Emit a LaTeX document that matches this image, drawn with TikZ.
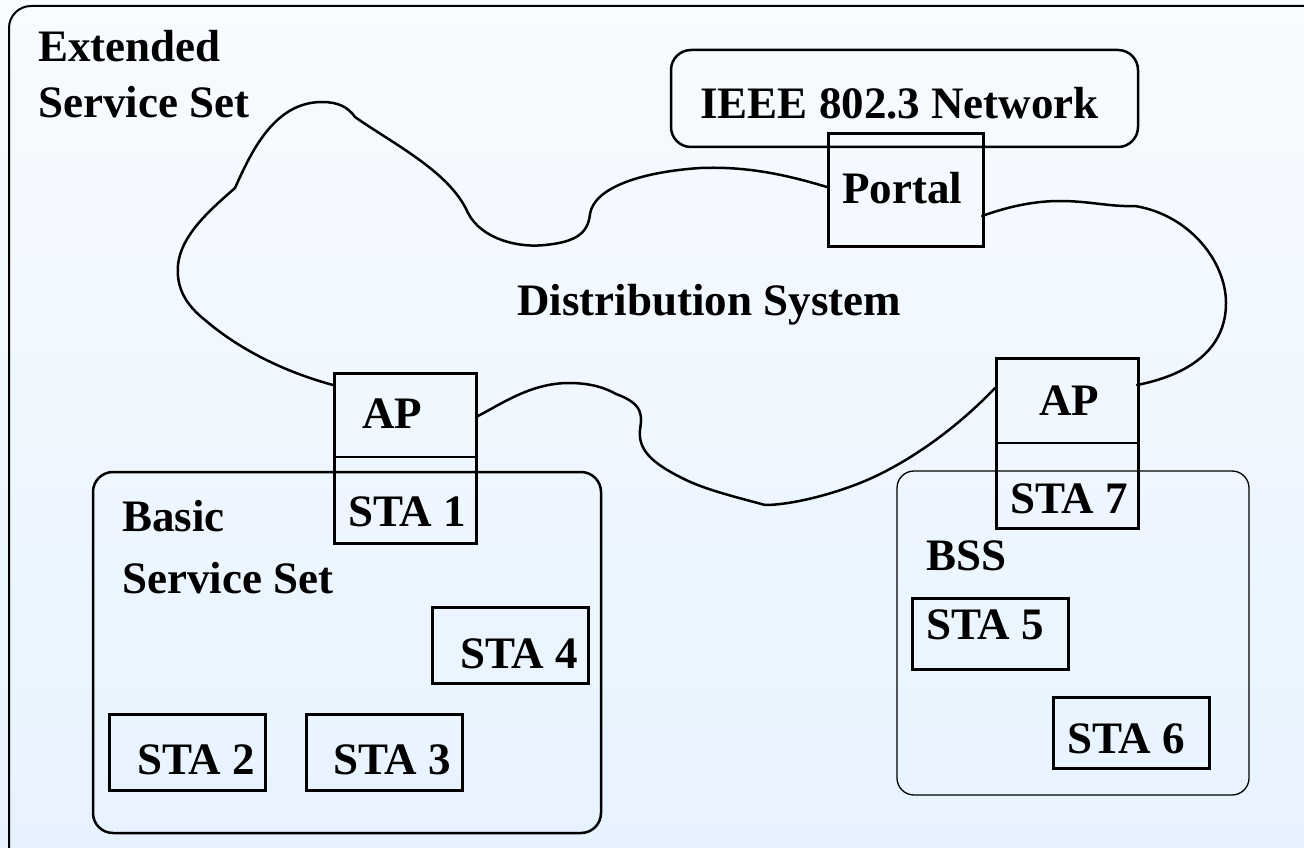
\documentclass[tikz,border=0pt]{standalone}
\usepackage{fontspec}
\setmainfont{Liberation Serif}
\definecolor{bgtop}{RGB}{248,251,255}
\definecolor{bgbot}{RGB}{230,243,255}
\begin{document}
\begin{tikzpicture}[x=1pt,y=-1pt,
  lbl/.style={anchor=base west, inner sep=0pt, font=\fontsize{45}{54}\selectfont\bfseries},
  sbox/.style={draw, line width=3pt, inner sep=0pt, anchor=north west},
  divline/.style={line width=1.4pt},
  cloudline/.style={line width=2.5pt, line join=round, line cap=round}]
\useasboundingbox (0,0) rectangle (1304,848);
\clip (0,0) rectangle (1304,848);
\fill[top color=bgtop, bottom color=bgbot] (0,0) rectangle (1304,848);
% outer frame
\draw[line width=2pt, rounded corners=22pt] (9,6) rectangle (1340,880);
\node[lbl] (ess1) at (38,62) {Extended};
\node[lbl] (ess2) at (38,118) {Service Set};
% IEEE network
\draw[line width=2.5pt, rounded corners=20pt] (671,50) rectangle (1138,147);
\node[lbl] (ieee) at (700,119) {IEEE 802.3 Network};
% portal
\node[sbox, minimum width=155pt, minimum height=113pt] (portal) at (827,132) {};
\node[lbl] (portaltxt) at (842,203) {Portal};
% distribution system label
\node[lbl] (ds) at (517,315) {Distribution System};
% left BSS
\draw[line width=2.5pt, rounded corners=20pt] (93,472) rectangle (601,833);
\node[lbl] (bss1a) at (122,531) {Basic};
\node[lbl] (bss1b) at (122,593) {Service Set};
% left AP / STA 1
\node[sbox, minimum width=142pt, minimum height=170pt] (apL) at (333,372) {};
\draw[divline] (333,457) -- (475,457);
\node[lbl] (apLtxt) at (362,428) {AP};
\node[lbl] (sta1) at (348,526) {STA 1};
% STA 2,3,4
\node[sbox, minimum width=156pt, minimum height=76pt] (b4) at (431,606) {};
\node[lbl] (sta4) at (460,668) {STA 4};
\node[sbox, minimum width=156pt, minimum height=76pt] (b2) at (107.5,713) {};
\node[lbl] (sta2) at (137,774) {STA 2};
\node[sbox, minimum width=156pt, minimum height=76pt] (b3) at (304.5,713) {};
\node[lbl] (sta3) at (333,774) {STA 3};
% right BSS
\draw[line width=1.3pt, rounded corners=17pt] (897,471) rectangle (1249,795);
\node[lbl] (bss2) at (926,570) {BSS};
\node[sbox, minimum width=156pt, minimum height=71pt] (b5) at (911,597) {};
\node[lbl] (sta5) at (926,639) {STA 5};
\node[sbox, minimum width=156pt, minimum height=71pt] (b6) at (1052,696) {};
\node[lbl] (sta6) at (1067,753) {STA 6};
% right AP / STA 7
\node[sbox, minimum width=142pt, minimum height=170pt] (apR) at (995,357) {};
\draw[divline] (995,443) -- (1137,443);
\node[lbl] (apRtxt) at (1039,415) {AP};
\node[lbl] (sta7) at (1010,513) {STA 7};
% cloud (distribution system)
\draw[cloudline] (333,385)
  .. controls (285,372) and (240,350) .. (205,320)
  .. controls (186,305) and (176,288) .. (178,265)
  .. controls (181,235) and (210,210) .. (235,188)
  .. controls (252,150) and (275,102) .. (322,102)
  .. controls (338,102) and (348,107) .. (355,117)
  .. controls (395,145) and (450,172) .. (468,213)
  .. controls (482,240) and (520,248) .. (545,245)
  .. controls (575,242) and (588,234) .. (590,214)
  .. controls (594,188) and (640,172) .. (700,168)
  .. controls (750,166) and (790,176) .. (827,187);
\draw[cloudline] (982,216)
  .. controls (1010,206) and (1035,201) .. (1060,201)
  .. controls (1090,201) and (1110,207) .. (1135,206)
  .. controls (1190,215) and (1226,262) .. (1226,303)
  .. controls (1226,350) and (1188,375) .. (1137,385);
\draw[cloudline] (995,388)
  .. controls (955,430) and (905,465) .. (860,483)
  .. controls (830,495) and (790,505) .. (765,505)
  .. controls (740,498) and (705,490) .. (682,478)
  .. controls (652,463) and (638,450) .. (640,430)
  .. controls (642,416) and (644,404) .. (616,394)
  .. controls (602,386) and (586,383) .. (569,383)
  .. controls (530,383) and (500,405) .. (476,417);
\end{tikzpicture}
\end{document}
